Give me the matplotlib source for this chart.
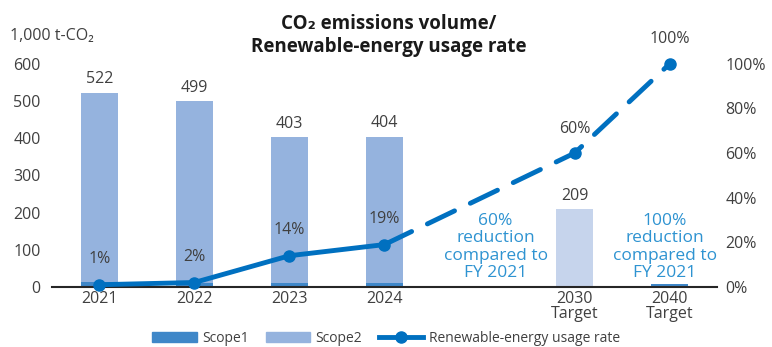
import matplotlib
matplotlib.use("Agg")
import matplotlib.pyplot as plt
import numpy as np
from matplotlib.patches import Patch
from matplotlib.lines import Line2D

plt.rcParams['font.family'] = ['Open Sans', 'DejaVu Sans']

categories = ["2021", "2022", "2023", "2024", "", "2030\nTarget", "2040\nTarget"]
scope1 = [13, 12, 10, 12, 0, 3, 8]
totals = [522, 499, 403, 404, None, 209, None]
scope2 = [509, 487, 393, 392, 0, 206, 0]
renew_actual = [1, 2, 14, 19]
renew_target = [19, 60, 100]
renew_labels = ["1%", "2%", "14%", "19%"]
target_labels = ["60%", "100%"]

c_s1 = "#3f87c8"
c_s2 = "#95b3de"
c_s2_target = "#c6d4ec"
c_line = "#0070c0"
c_note = "#2e93d1"
c_text = "#404040"

fs = 11.5

fig = plt.figure(figsize=(7.72, 3.47), dpi=100)
ax = fig.add_axes([0.067, 0.173, 0.862, 0.643])
ax2 = ax.twinx()

x = np.arange(len(categories))
w = 0.39
s2_colors = [c_s2] * 5 + [c_s2_target, c_s2]
ax.bar(x, scope1, w, color=c_s1, zorder=2)
ax.bar(x, scope2, w, bottom=scope1, color=s2_colors, zorder=2)

for xi, t in zip(x, totals):
    if t is not None:
        ax.text(xi, t + 36, str(t), ha="center", va="center", fontsize=fs, color=c_text)

ax.set_xlim(-0.5, len(categories) - 0.5)
ax.set_ylim(0, 600)
ax.set_yticks(range(0, 601, 100))
ax.set_xticks(x)
ax.set_xticklabels(categories, linespacing=0.9)
for s in ["top", "right", "left"]:
    ax.spines[s].set_visible(False)
    ax2.spines[s].set_visible(False)
ax.spines["bottom"].set_color("#262626")
ax.spines["bottom"].set_linewidth(1.5)
ax2.spines["bottom"].set_visible(False)
ax.tick_params(axis="both", length=0, labelsize=fs, labelcolor=c_text)
ax.tick_params(axis="x", pad=3)
ax.tick_params(axis="y", pad=8)

ax2.set_ylim(0, 100)
ax2.set_yticks(range(0, 101, 20))
ax2.set_yticklabels([f"{v}%" for v in range(0, 101, 20)])
ax2.tick_params(axis="y", length=0, labelsize=fs, labelcolor=c_text, pad=6)

xa = x[:4]
ax2.plot(xa, renew_actual, color=c_line, lw=3.5, marker="o", ms=8, zorder=5, clip_on=False)
xt = [x[3], x[5], x[6]]
ax2.plot(xt, renew_target, color=c_line, lw=3.5, ls=(0, (6.2, 3.6)), zorder=5,
         dash_capstyle="round", clip_on=False)
ax2.plot(xt[1:], renew_target[1:], color=c_line, lw=0, marker="o", ms=8, zorder=6, clip_on=False)

for xi, v, lab in zip(xa, renew_actual, renew_labels):
    ax2.text(xi, v + 11.5, lab, ha="center", va="center", fontsize=fs, color=c_text)
for xi, v, lab in zip(xt[1:], renew_target[1:], target_labels):
    ax2.text(xi, v + 11, lab, ha="center", va="center", fontsize=fs, color=c_text)

ax.text(4.17, 108, "60%\nreduction\ncompared to\nFY 2021", ha="center", va="center",
        fontsize=12.5, color=c_note, linespacing=1.12)
ax.text(5.95, 108, "100%\nreduction\ncompared to\nFY 2021", ha="center", va="center",
        fontsize=12.5, color=c_note, linespacing=1.12)

fig.text(0.504, 0.898, "CO\u2082 emissions volume/\nRenewable-energy usage rate", ha="center",
         va="center", fontsize=13.5, fontweight="bold", color="#1a1a1a", linespacing=1.15)
fig.text(0.013, 0.897, "1,000 t-CO\u2082", ha="left", va="center", fontsize=fs, color=c_text)

handles = [Patch(color=c_s1), Patch(color=c_s2),
           Line2D([0], [0], color=c_line, lw=3.5, marker="o", ms=8)]
fig.legend(handles, ["Scope1", "Scope2", "Renewable-energy usage rate"], loc="center",
           bbox_to_anchor=(0.5, 0.025), ncol=3, frameon=False, fontsize=10,
           handlelength=3.2, handleheight=0.7, columnspacing=1.2, handletextpad=0.4,
           labelcolor=c_text)

fig.savefig("out.png", dpi=100)
